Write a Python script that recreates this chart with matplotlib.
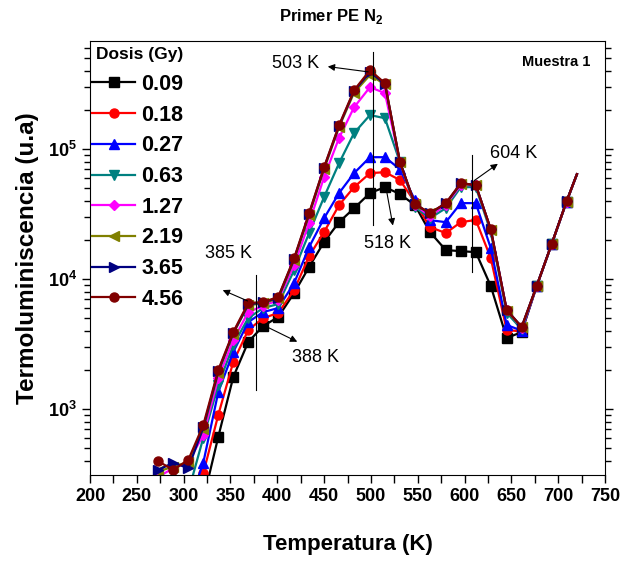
import matplotlib
matplotlib.use("Agg")
from matplotlib import pyplot as plt
from matplotlib.ticker import MultipleLocator, LogLocator, NullFormatter
import numpy as np

plt.rcParams['font.family'] = ['Liberation Sans', 'DejaVu Sans']
plt.rcParams['mathtext.fontset'] = 'custom'
plt.rcParams['mathtext.rm'] = 'Liberation Sans:bold'
plt.rcParams['mathtext.bf'] = 'Liberation Sans:bold'

# temperature (K)
temp = [273, 289, 305, 321, 337, 353, 369, 385, 401, 418, 434, 450, 466, 482, 499,
        515, 531, 547, 563, 580, 596, 612, 628, 645, 661, 677, 693, 709, 720]

# TL intensity (u.a) for each dose
d009 = [100, 110, 130, 200, 610, 1760, 3280, 4350, 5100, 7800, 12400, 19300, 27400, 35100, 45900,
        51000, 45100, 37100, 23000, 16700, 16400, 16100, 8830, 3520, 3900, 8800, 18500, 39500, 64000]
d018 = [120, 130, 160, 320, 900, 2300, 4050, 5010, 5470, 8230, 15000, 23000, 37100, 51000, 65300,
        66500, 57800, 39100, 25100, 22600, 27400, 28500, 14500, 4050, 3950, 8800, 18500, 39500, 64000]
d027 = [150, 160, 180, 385, 1350, 2740, 4660, 5570, 5980, 9310, 17600, 29400, 45900, 65300, 86700,
        86700, 70000, 40500, 28400, 27400, 38400, 38400, 17300, 4430, 4000, 8800, 18500, 39500, 64000]
d063 = [200, 210, 230, 600, 1530, 3100, 5010, 5980, 6420, 11700, 22600, 42800, 78000, 133000, 183000,
        173000, 79400, 35800, 29400, 35100, 51000, 51000, 23000, 5500, 4100, 8800, 18500, 39500, 64000]
d127 = [300, 350, 390, 630, 1730, 3390, 5570, 6200, 6900, 12800, 27000, 60900, 122000, 210000, 300000,
        270000, 79400, 37100, 30500, 37100, 52900, 52900, 24000, 5800, 4200, 8800, 18500, 39500, 64000]
d219 = [330, 360, 390, 700, 1900, 3800, 6300, 6500, 7100, 14000, 31000, 70000, 148000, 272000, 372000,
        315000, 80000, 37500, 32000, 38000, 54000, 53000, 24000, 5700, 4250, 8800, 18500, 39500, 64000]
d365 = [340, 385, 350, 720, 1950, 3850, 6400, 6600, 7200, 14300, 31800, 72000, 151000, 280000, 392000,
        318000, 80000, 37600, 32100, 38200, 54500, 53000, 24200, 5780, 4280, 8830, 18600, 39800, 64200]
d456 = [394, 340, 405, 753, 1995, 3910, 6530, 6650, 7270, 14500, 32200, 72800, 153000, 284000, 405000,
        322000, 79400, 37800, 32200, 38400, 54700, 52900, 24200, 5780, 4280, 8830, 18600, 39800, 64200]

doses = ['0.09', '0.18', '0.27', '0.63', '1.27', '2.19', '3.65', '4.56']
series = [d009, d018, d027, d063, d127, d219, d365, d456]
colors = ['black', 'red', 'blue', '#008080', 'magenta', '#808000', '#000080', '#800000']
markers = ['s', 'o', '^', 'v', 'D', '<', '>', 'o']

fig = plt.figure(figsize=(6.33, 5.61), dpi=100)
ax = fig.add_axes([90/633, 1-475/561, 515/633, 434/561])

for lab, y, c, m in zip(doses, series, colors, markers):
    ms = 5.5 if m == 'D' else 6.5
    ax.plot(temp, y, color=c, marker=m, ms=ms, lw=1.6, label=lab,
            markevery=list(range(len(temp) - 1)))

ax.set_yscale('log')
ax.set_xlim(200, 750)
ax.set_ylim(310, 680000)

ax.xaxis.set_major_locator(MultipleLocator(50))
ax.xaxis.set_minor_locator(MultipleLocator(25))
ax.yaxis.set_minor_locator(LogLocator(base=10, subs=np.arange(2, 10)))
ax.yaxis.set_minor_formatter(NullFormatter())
ax.tick_params(which='both', direction='out', right=True, top=False, width=1)
ax.tick_params(which='major', length=6, labelsize=13)
ax.tick_params(which='minor', length=4)
ax.tick_params(axis='x', which='minor', length=6)
for t in ax.get_xticklabels() + ax.get_yticklabels():
    t.set_fontweight('bold')

ax.set_xlabel('Temperatura (K)', fontsize=16, fontweight='bold', labelpad=21)
ax.set_ylabel('Termoluminiscencia (u.a)', fontsize=17.5, fontweight='bold', labelpad=6)
fig.text(331/633, 1-17/561, 'Primer PE N$_2$', ha='center', va='center', fontsize=12, fontweight='bold')
fig.text(556/633, 1-62/561, 'Muestra 1', ha='center', va='center', fontsize=10.5, fontweight='bold')

# legend, with its heading as a separate text
fig.text(96/633, 1-55/561, 'Dosis (Gy)', ha='left', va='center', fontsize=12.5, fontweight='bold')
leg = ax.legend(loc='upper left', bbox_to_anchor=(92/633, 1-74/561), bbox_transform=fig.transFigure,
                frameon=False, prop={'weight': 'bold', 'size': 15.5},
                handlelength=2.0, handletextpad=0.3, labelspacing=0.45, borderaxespad=0, borderpad=0)

# peak markers
ann = dict(fontsize=13)
arr = dict(arrowstyle='-|>', color='black', lw=0.8, mutation_scale=10)
ax.plot([502, 502], [26000, 557000], color='black', lw=0.8)
ax.annotate('', xy=(451, 435000), xytext=(500, 391000), arrowprops=arr)
ax.text(420, 459000, '503 K', ha='center', va='center', **ann)
ax.annotate('', xy=(524, 24600), xytext=(516, 51000), arrowprops=arr)
ax.text(518, 18900, '518 K', ha='center', va='center', **ann)
ax.plot([608, 608], [11300, 89900], color='black', lw=0.8)
ax.annotate('', xy=(638, 79400), xytext=(608, 55700), arrowprops=arr)
ax.text(652, 93000, '604 K', ha='center', va='center', **ann)
ax.plot([377, 377], [1400, 10700], color='black', lw=0.8)
ax.annotate('', xy=(339, 8380), xytext=(371, 6650), arrowprops=arr)
ax.text(348, 15600, '385 K', ha='center', va='center', **ann)
ax.annotate('', xy=(424, 3220), xytext=(387, 4350), arrowprops=arr)
ax.text(441, 2510, '388 K', ha='center', va='center', **ann)

fig.savefig('out.png', dpi=100)
